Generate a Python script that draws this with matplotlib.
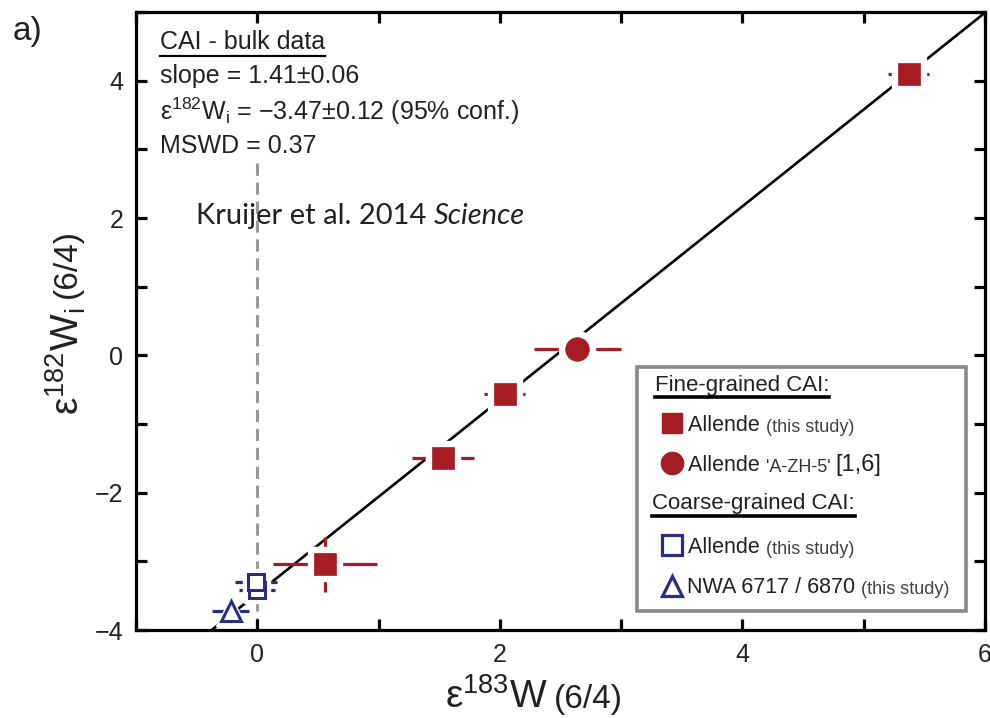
import matplotlib
matplotlib.use("Agg")
import matplotlib.pyplot as plt
from matplotlib.ticker import MultipleLocator, FuncFormatter
from matplotlib.patches import Rectangle
import numpy as np

plt.rcParams['font.family'] = ['Liberation Sans', 'DejaVu Sans']
plt.rcParams['mathtext.fontset'] = 'custom'
plt.rcParams['mathtext.rm'] = 'Liberation Sans'
plt.rcParams['mathtext.it'] = 'Liberation Sans:italic'

# ---- data ----
fine_x = [0.56, 1.53, 2.04, 5.37]
fine_y = [-3.04, -1.50, -0.57, 4.09]
fine_xerr = [0.43, 0.255, 0.17, 0.17]
fine_yerr = [0.40, 0.15, 0.14, 0.12]

azh_x = [2.64]
azh_y = [0.09]
azh_xerr = [0.36]
azh_yerr = [0.12]

coarse_x = [0.0, -0.01]
coarse_y = [-3.42, -3.30]
coarse_xerr = [0.15, 0.17]
coarse_yerr = [0.17, 0.13]

nwa_x = [-0.22]
nwa_y = [-3.72]
nwa_xerr = [0.15]
nwa_yerr = [0.2]

slope = 1.41
intercept = -3.47
ref_line_top = 2.8

RED = '#a51c22'
BLUE = '#2b2e80'
TXT = '#222222'

fig = plt.figure(figsize=(9.9, 7.18), dpi=100)
ax = fig.add_axes([136/990, (718-630)/718, (985-136)/990, (630-12)/718])
ax.set_xlim(-1, 6)
ax.set_ylim(-4, 5)

# vertical dashed line at x=0
ax.plot([0, 0], [-4, ref_line_top], color='#999999', lw=2.2, ls=(0, (4, 2.2)), zorder=1)

# regression line
xl = np.array([-1, 6.5])
ax.plot(xl, slope*xl + intercept, color='black', lw=1.9, zorder=2, solid_capstyle='butt')

def draw(xs, ys, xe, ye, color, marker, ms, fill, mew=2.0, halo=9):
    for i in range(len(xs)):
        ax.errorbar([xs[i]], [ys[i]], xerr=[xe[i]], yerr=[ye[i]], fmt='none', ecolor=color,
                    elinewidth=2.3, capsize=0, zorder=3)
        ax.plot([xs[i]], [ys[i]], ls='none', marker=marker, ms=ms + halo, mfc='white',
                mec='white', zorder=4)
        ax.plot([xs[i]], [ys[i]], ls='none', marker=marker, ms=ms, mfc=fill, mec=color,
                mew=mew, zorder=5)

draw(nwa_x, nwa_y, nwa_xerr, nwa_yerr, BLUE, '^', 14, 'white', 2.2, 8)
draw(coarse_x, coarse_y, coarse_xerr, coarse_yerr, BLUE, 's', 12, 'white', 2.2, 7)
draw(fine_x, fine_y, fine_xerr, fine_yerr, RED, 's', 16, RED, 0.5)
draw(azh_x, azh_y, azh_xerr, azh_yerr, RED, 'o', 17, RED, 0.5)

# axes styling
for s in ax.spines.values():
    s.set_linewidth(2.3)
ax.xaxis.set_major_locator(MultipleLocator(1))
ax.yaxis.set_major_locator(MultipleLocator(1))
fmt = FuncFormatter(lambda v, p: ('%d' % v).replace('-', '\u2212') if int(round(v)) % 2 == 0 else '')
ax.xaxis.set_major_formatter(fmt)
ax.yaxis.set_major_formatter(fmt)
ax.tick_params(which='major', direction='in', length=8, width=2.3, top=True, right=True,
               labelsize=18, pad=9, colors='black')
for lab in ax.get_xticklabels() + ax.get_yticklabels():
    lab.set_color(TXT)

fig.text(13/990, 1 - 40/718, 'a)', fontsize=24, va='baseline', color=TXT)

# annotation text
tx = 0.028
h0 = ax.text(tx, 0.951, 'CAI - bulk data', transform=ax.transAxes, fontsize=18, va='center', color=TXT)
ax.text(tx, 0.897, 'slope = 1.41\u00b10.06', transform=ax.transAxes, fontsize=18, va='center', color=TXT)
ax.text(tx, 0.840, r'$\mathregular{\varepsilon^{182}W_i}$' + ' = \u22123.47\u00b10.12 (95% conf.)',
        transform=ax.transAxes, fontsize=18, va='center', color=TXT)
ax.text(tx, 0.783, 'MSWD = 0.37', transform=ax.transAxes, fontsize=18, va='center', color=TXT)

t1 = ax.text(0.0707, 0.670, 'Kruijer et al. 2014 ', transform=ax.transAxes, fontsize=21,
             va='center', family=['Lato', 'DejaVu Sans'], color=TXT)
ax.annotate('Science', xy=(1, 0), xycoords=t1, va='bottom', ha='left', fontsize=21,
            family=['Lato', 'DejaVu Sans'], style='italic', color=TXT)

# legend box
def fy(py):
    return (630-py)/618
def fx(px):
    return (px-136)/849

x0, x1 = fx(637), fx(966)
y0, y1 = fy(611), fy(367)
ax.add_patch(Rectangle((x0, y0), x1-x0, y1-y0, transform=ax.transAxes, fill=True,
                       facecolor='white', edgecolor='#888888', lw=2.6, zorder=10))

h1 = ax.text(fx(655), fy(385), 'Fine-grained CAI:', transform=ax.transAxes, fontsize=16,
             va='center', zorder=11, color=TXT)
h2 = ax.text(fx(652), fy(504), 'Coarse-grained CAI:', transform=ax.transAxes, fontsize=16,
             va='center', zorder=11, color=TXT)

mx = fx(672)
ax.plot([mx], [fy(423)], marker='s', ms=15, color=RED, transform=ax.transAxes, zorder=11, clip_on=False)
ax.plot([mx], [fy(463)], marker='o', ms=16, color=RED, transform=ax.transAxes, zorder=11, clip_on=False)
ax.plot([mx], [fy(545)], marker='s', ms=14, mfc='white', mec=BLUE, mew=2.3, transform=ax.transAxes, zorder=11, clip_on=False)
ax.plot([mx], [fy(586)], marker='^', ms=15, mfc='white', mec=BLUE, mew=2.3, transform=ax.transAxes, zorder=11, clip_on=False)

def entry(px, py, parts):
    prev = None
    for txt, size, col in parts:
        if prev is None:
            prev = ax.text(fx(px), fy(py), txt, transform=ax.transAxes, fontsize=size,
                           va='baseline', zorder=11, color=col)
        else:
            prev = ax.annotate(txt, xy=(1, 0), xycoords=prev, va='bottom', ha='left',
                               fontsize=size, zorder=11, color=col,
                               annotation_clip=False)
    return prev

entry(688, 431, [('Allende ', 15.5, TXT), ('(this study)', 13, '#444444')])
entry(688, 471, [('Allende ', 15.5, TXT), ("'A-ZH-5' ", 13, '#333333'), ('[1,6]', 17, TXT)])
entry(688, 553, [('Allende ', 15.5, TXT), ('(this study)', 13, '#444444')])
entry(687, 593, [('NWA 6717 / 6870 ', 15.5, TXT), ('(this study)', 13, '#444444')])

# axis labels (two sizes)
W, H = 990, 718
XBASE = 708
xl1 = fig.text(445/W, 1 - XBASE/H, r'$\mathregular{\varepsilon^{183}W}$', fontsize=28,
               ha='left', va='baseline', color=TXT)
yl1 = fig.text(80/W, 1 - 415/H, r'$\mathregular{\varepsilon^{182}W_i}$', fontsize=28,
               ha='left', va='baseline', rotation=90, rotation_mode='anchor', color=TXT)

fig.canvas.draw()
r = fig.canvas.get_renderer()
bx = xl1.get_window_extent(r)
fig.text((bx.x1 + 6) / W, 1 - XBASE/H, '(6/4)', fontsize=24, ha='left', va='baseline', color=TXT)
by = yl1.get_window_extent(r)
fig.text(76/W, (by.y1 + 10) / H, '(6/4)', fontsize=24, ha='left', va='baseline',
         rotation=90, rotation_mode='anchor', color=TXT)

# underlines
inv = ax.transAxes.inverted()
for t, lw in [(h0, 1.6), (h1, 2.6), (h2, 2.6)]:
    bb = t.get_window_extent(r)
    (ax0, ay0), (ax1_, ay1) = inv.transform([[bb.x0, bb.y0], [bb.x1, bb.y1]])
    yline = ay0 - 0.002
    ax.plot([ax0, ax1_], [yline, yline], color='black', lw=lw, transform=ax.transAxes,
            zorder=11, clip_on=False)

fig.savefig('out.png', dpi=100)
